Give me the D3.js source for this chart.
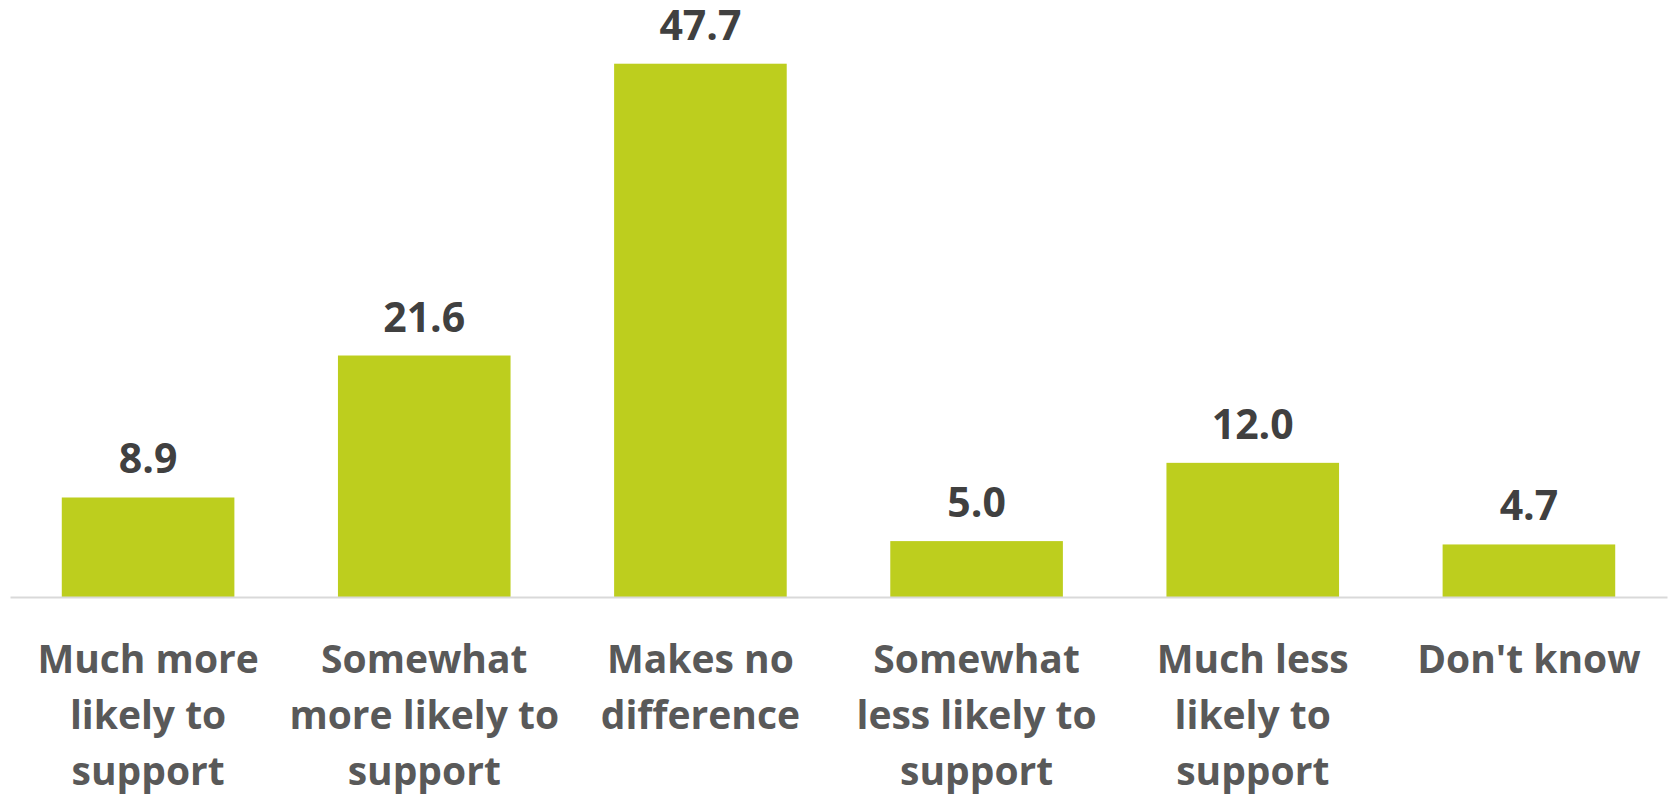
<!DOCTYPE html>
<html>
<head>
<meta charset="utf-8">
<script src="https://cdn.jsdelivr.net/npm/d3@7"></script>
<style>
  html, body { margin: 0; padding: 0; background: #ffffff; }
  svg { display: block; }
</style>
</head>
<body>
<svg id="chart" width="1669" height="799"></svg>
<script>
const categories = [
  "Much more likely to support",
  "Somewhat more likely to support",
  "Makes no difference",
  "Somewhat less likely to support",
  "Much less likely to support",
  "Don't know"
];
const values = [8.9, 21.6, 47.7, 5.0, 12.0, 4.7];
const tickLabelLines = [
  ["Much more", "likely to", "support"],
  ["Somewhat", "more likely to", "support"],
  ["Makes no", "difference"],
  ["Somewhat", "less likely to", "support"],
  ["Much less", "likely to", "support"],
  ["Don't know"]
];

const svg = d3.select("#chart");
const baseY = 597;
const x = d3.scaleBand()
  .domain(categories)
  .range([10, 1667])
  .paddingInner(0.375)
  .paddingOuter(0.1875);
const y = d3.scaleLinear().domain([0, 50]).range([baseY, 38]);

const fontFamily = "'Open Sans', 'DejaVu Sans', sans-serif";

// Bars
svg.append("g").selectAll("rect")
  .data(values)
  .join("rect")
  .attr("x", (d, i) => x(categories[i]))
  .attr("y", d => y(d))
  .attr("width", x.bandwidth())
  .attr("height", d => y(0) - y(d))
  .attr("fill", "#bdce1e");

// Value labels
svg.append("g").selectAll("text")
  .data(values)
  .join("text")
  .attr("x", (d, i) => x(categories[i]) + x.bandwidth() / 2)
  .attr("y", d => y(d) - 24)
  .attr("text-anchor", "middle")
  .attr("font-family", fontFamily)
  .attr("font-weight", 700)
  .attr("font-size", "41px")
  .attr("fill", "#404040")
  .text(d => d.toFixed(1));

// X axis
const xAxis = d3.axisBottom(x).tickSize(0).tickSizeOuter(0).tickFormat(() => "");
const gx = svg.append("g")
  .attr("transform", `translate(0,${baseY})`)
  .call(xAxis);
gx.select(".domain").attr("stroke", "#d9d9d9").attr("stroke-width", 2);
gx.selectAll(".tick text").remove();
gx.selectAll(".tick").each(function(d, i) {
  const t = d3.select(this).append("text")
    .attr("text-anchor", "middle")
    .attr("font-family", fontFamily)
    .attr("font-weight", 700)
    .attr("font-size", "39px")
    .attr("fill", "#595959");
  tickLabelLines[i].forEach((line, j) => {
    t.append("tspan").attr("x", 0).attr("y", 76 + j * 56).text(line);
  });
});
</script>
</body>
</html>
